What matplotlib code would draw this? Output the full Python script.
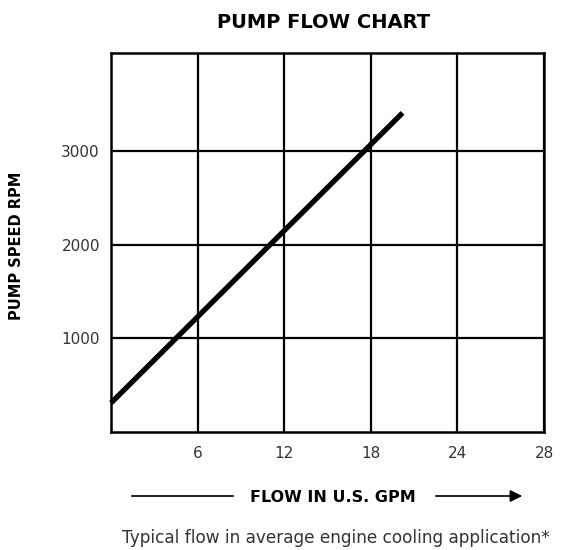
import numpy as np
import matplotlib
matplotlib.use("Agg")
import matplotlib.pyplot as plt

# pump flow data
flow_gpm = [0, 20.2]
pump_rpm = [310, 3410]
x_ticks = [6, 12, 18, 24, 30]
x_tick_labels = ["6", "12", "18", "24", "28"]
y_ticks = [1000, 2000, 3000]
y_tick_labels = ["1000", "2000", "3000"]

plt.rcParams["font.family"] = ["DejaVu Sans"]

fig = plt.figure(figsize=(5.64, 5.5), dpi=100)
ax = fig.add_axes([111/564, 1 - 432/550, 433/564, 379/550])

ax.plot(flow_gpm, pump_rpm, color="black", linewidth=3.8, solid_capstyle="butt",
        clip_on=False, zorder=3)

ax.set_xlim(0, 30)
ax.set_ylim(0, 4050)
ax.set_xticks(x_ticks)
ax.set_xticklabels(x_tick_labels)
ax.set_yticks(y_ticks)
ax.set_yticklabels(y_tick_labels)
ax.tick_params(length=0, labelsize=11, colors="#333333")
ax.tick_params(axis="y", pad=8)
ax.tick_params(axis="x", pad=10)
ax.grid(color="black", linewidth=1.6)
for s in ax.spines.values():
    s.set_linewidth(1.8)

ax.set_ylabel("PUMP SPEED RPM", fontsize=10.5, fontweight="bold")
ax.yaxis.set_label_coords(-(111 - 24) / 433, 0.49)
fig.text(324/564, 1 - 22/550, "PUMP FLOW CHART", ha="center", va="center",
         fontsize=14, fontweight="bold")

# x label with arrows
fig.text(333/564, 1 - 497/550, "FLOW IN U.S. GPM", ha="center", va="center",
         fontsize=11.5, fontweight="bold")
fig.add_artist(plt.Line2D([132/564, 233/564], [1 - 496/550] * 2, color="black",
                          linewidth=1.2))
fig.add_artist(matplotlib.patches.FancyArrowPatch((433/564, 1 - 496/550),
                                                  (525/564, 1 - 496/550),
                                                  transform=fig.transFigure,
                                                  arrowstyle="-|>", mutation_scale=18,
                                                  color="black", linewidth=1.2))
fig.text(336/564, 1 - 538/550, "Typical flow in average engine cooling application*",
         ha="center", va="center", fontsize=12.2, color="#333333")

fig.savefig("out.png", dpi=100)
